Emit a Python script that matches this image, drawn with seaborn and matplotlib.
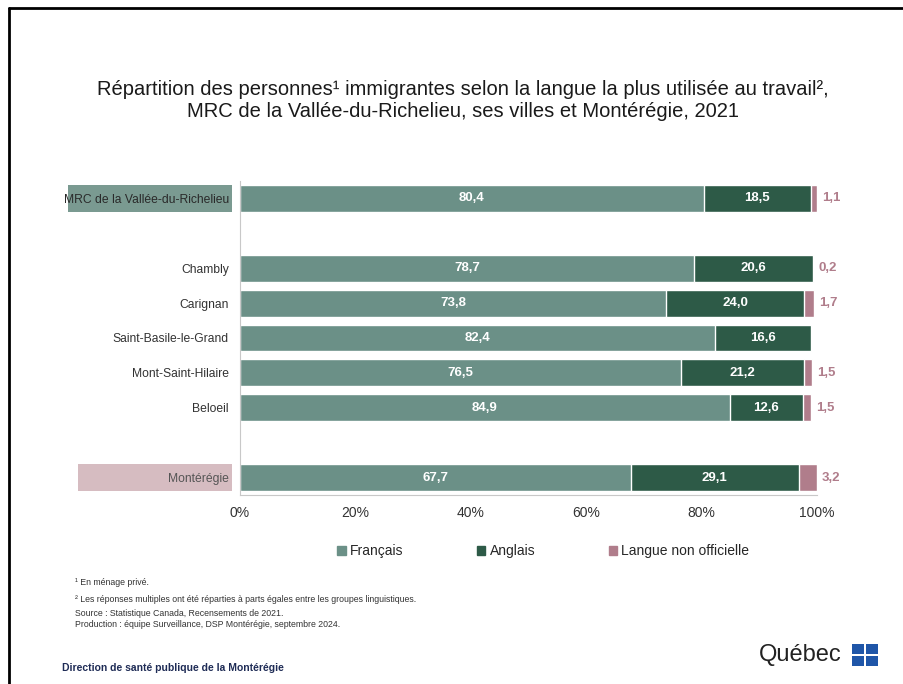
import matplotlib
matplotlib.use("Agg")
import matplotlib.pyplot as plt
import seaborn as sns
import pandas as pd
import numpy as np
from matplotlib.patches import Patch, Rectangle
from matplotlib.lines import Line2D
import matplotlib.transforms as mtransforms

# categories (blank strings = empty separator rows)
categories = ["MRC de la Vallée-du-Richelieu", " ", "Chambly", "Carignan",
              "Saint-Basile-le-Grand", "Mont-Saint-Hilaire", "Beloeil", "  ", "Montérégie"]
francais = [80.4, 0, 78.7, 73.8, 82.4, 76.5, 84.9, 0, 67.7]
anglais = [18.5, 0, 20.6, 24.0, 16.6, 21.2, 12.6, 0, 29.1]
non_officielle = [1.1, 0, 0.2, 1.7, 0, 1.5, 1.5, 0, 3.2]
is_row = [True, False, True, True, True, True, True, False, True]

c_fr = "#6b9087"
c_en = "#2d5a47"
c_no = "#b07d8b"

df = pd.DataFrame({"cat": categories, "fr": francais, "en": anglais, "no": non_officielle})
df["cum2"] = df["fr"] + df["en"]
df["cum3"] = df["cum2"] + df["no"]

sns.set_style("white")
plt.rcParams["font.family"] = ["Liberation Sans", "DejaVu Sans"]

fig = plt.figure(figsize=(9.04, 6.84), dpi=100)
ax = fig.add_axes([0.2655, 0.2763, 0.6383, 0.4591])

sns.barplot(data=df, x="cum3", y="cat", color=c_no, orient="h", width=0.77,
            saturation=1, ax=ax, errorbar=None)
sns.barplot(data=df, x="cum2", y="cat", color=c_en, orient="h", width=0.77,
            saturation=1, ax=ax, errorbar=None)
sns.barplot(data=df, x="fr", y="cat", color=c_fr, orient="h", width=0.77,
            saturation=1, ax=ax, errorbar=None)

def fmt(v):
    return f"{v:.1f}".replace(".", ",")

for i, row in df.iterrows():
    if not is_row[i]:
        continue
    ax.text(row["fr"] / 2, i, fmt(row["fr"]), color="white", ha="center", va="center",
            fontsize=9.5, fontweight="bold")
    ax.text(row["fr"] + row["en"] / 2, i, fmt(row["en"]), color="white", ha="center",
            va="center", fontsize=9.5, fontweight="bold")
    if row["no"] > 0:
        ax.text(row["cum3"] + 0.8, i, fmt(row["no"]), color=c_no, ha="left",
                va="center", fontsize=9.5, fontweight="bold")

ax.set_xlim(0, 100)
ax.set_xticks([0, 20, 40, 60, 80, 100])
ax.set_xticklabels(["0%", "20%", "40%", "60%", "80%", "100%"], fontsize=10, color="#333333")
ax.set_xlabel("")
ax.set_ylabel("")
for s in ["top", "right"]:
    ax.spines[s].set_visible(False)
for s in ["left", "bottom"]:
    ax.spines[s].set_color("#c8c8c8")
    ax.spines[s].set_linewidth(0.8)
ax.tick_params(axis="x", length=4, color="#c8c8c8", direction="out", pad=4)
ax.tick_params(axis="y", which="major", length=0, pad=8, labelsize=8.7, labelcolor="#333333")
ax.set_yticks(np.arange(-0.5, len(categories), 1), minor=True)
ax.tick_params(axis="y", which="minor", length=4, color="#c8c8c8", direction="out")

# highlight boxes behind the MRC and Montérégie labels
trans = mtransforms.blended_transform_factory(ax.transAxes, ax.transData)
ax.add_patch(Rectangle((-0.298, 0 - 0.385), 0.284, 0.77, transform=trans,
                       facecolor="#7a9a91", edgecolor="none", clip_on=False, zorder=0))
ax.add_patch(Rectangle((-0.281, 8 - 0.385), 0.267, 0.77, transform=trans,
                       facecolor="#d6bcc1", edgecolor="none", clip_on=False, zorder=0))
labels = ax.get_yticklabels()
labels[0].set_color("#2a2a2a")
labels[8].set_color("#555555")

# legend
handles = [Patch(color=c_fr, label="Français"), Patch(color=c_en, label="Anglais"),
           Patch(color=c_no, label="Langue non officielle")]
fig.legend(handles=handles, loc="center", bbox_to_anchor=(0.601, 0.194), ncol=3,
           frameon=False, fontsize=10, handlelength=0.6, handleheight=0.6,
           handletextpad=0.3, columnspacing=5.3)

# title
fig.text(0.512, 0.869, "Répartition des personnes¹ immigrantes selon la langue la plus utilisée au travail²,",
         ha="center", va="center", fontsize=14.5, color="#1a1a1a")
fig.text(0.512, 0.837, "MRC de la Vallée-du-Richelieu, ses villes et Montérégie, 2021",
         ha="center", va="center", fontsize=14.5, color="#1a1a1a")

# footnotes
notes = [(0.148, "¹ En ménage privé."),
         (0.123, "² Les réponses multiples ont été réparties à parts égales entre les groupes linguistiques."),
         (0.103, "Source : Statistique Canada, Recensements de 2021."),
         (0.087, "Production : équipe Surveillance, DSP Montérégie, septembre 2024.")]
for y, t in notes:
    fig.text(0.083, y, t, fontsize=6.3, color="#333333", va="center")

fig.text(0.069, 0.024, "Direction de santé publique de la Montérégie", fontsize=7.5,
         fontweight="bold", color="#1f2c56", va="center")

# Québec wordmark
fig.text(0.839, 0.042, "Québec", fontsize=17, color="#222222", va="center", ha="left")
for dx, dy in [(0, 0), (1, 0), (0, 1), (1, 1)]:
    fig.add_artist(Rectangle((0.9425 + dx * 0.0155, 0.026 + dy * 0.018), 0.0135, 0.015,
                             transform=fig.transFigure, facecolor="#1f56a8", edgecolor="none"))

# slide frame
fig.add_artist(Line2D([0.0105, 0.0105], [0.0, 0.988], transform=fig.transFigure,
                      color="black", linewidth=2))
fig.add_artist(Line2D([0.0105, 1.0], [0.988, 0.988], transform=fig.transFigure,
                      color="black", linewidth=2))

fig.savefig("out.png", dpi=100)
